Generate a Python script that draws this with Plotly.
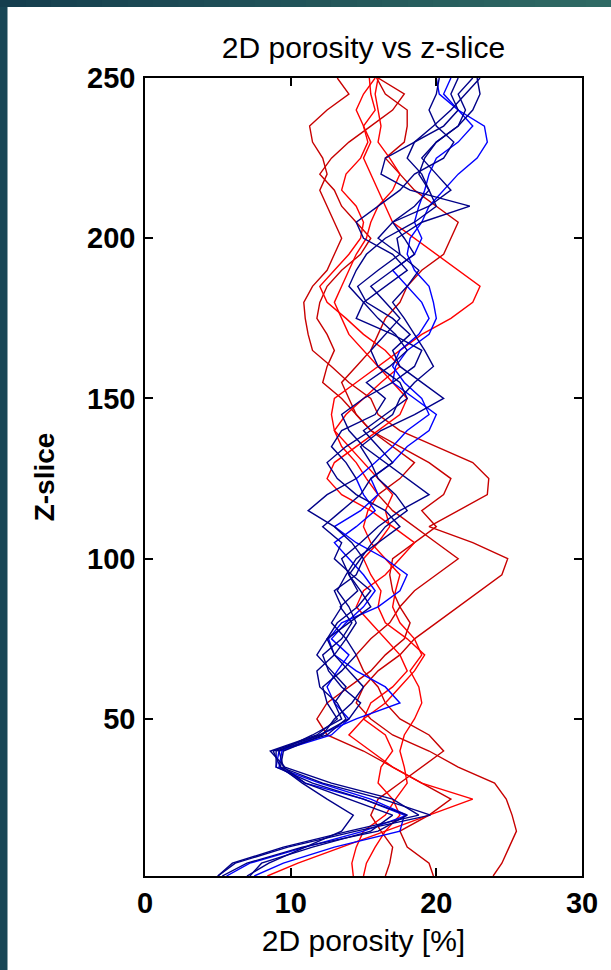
import plotly.graph_objects as go

# z-slice sample positions
z_slice = [1] + list(range(5, 251, 5))

# 2D porosity [%] per z-slice, one list per sample
navy_1 = [5.0, 6.2, 9.8, 14.5, 19.6, 16.3, 12.2, 9.3, 8.8, 12.0, 14.0, 14.8, 13.5, 12.6, 12.2, 13.5, 14.2, 13.4, 14.6, 14.0,
          14.8, 15.6, 16.5, 18.0, 17.2, 16.0, 15.5, 14.8, 16.2, 18.5, 20.5, 19.0, 17.5, 17.0, 18.2, 17.0, 15.2, 14.6, 16.0, 17.5,
          17.3, 19.0, 22.3, 18.2, 16.2, 16.5, 18.5, 19.8, 21.0, 22.0, 23.0]
navy_2 = [5.3, 7.0, 10.8, 16.0, 18.0, 15.0, 11.5, 9.0, 9.0, 12.5, 13.8, 13.2, 12.0, 11.8, 13.0, 13.8, 12.8, 13.5, 13.0, 14.5,
          15.0, 14.2, 13.0, 11.2, 12.5, 14.5, 13.8, 12.8, 13.5, 15.8, 16.5, 15.2, 16.8, 18.0, 17.2, 16.0, 15.0, 14.0, 14.5, 15.2,
          16.5, 18.5, 20.0, 19.5, 18.8, 19.2, 20.0, 21.5, 22.0, 21.5, 22.5]
navy_3 = [7.0, 8.5, 11.0, 13.5, 14.3, 12.5, 10.8, 9.3, 9.5, 12.2, 13.0, 14.2, 15.0, 14.0, 13.0, 12.5, 14.0, 15.5, 14.8, 14.0,
          13.5, 14.8, 16.0, 17.5, 19.5, 18.0, 16.5, 15.0, 14.0, 13.5, 15.0, 17.0, 18.5, 19.0, 17.0, 14.5, 15.0, 16.5, 18.0, 17.0,
          15.0, 14.5, 16.0, 17.5, 18.5, 20.5, 21.2, 20.0, 19.5, 20.0, 20.2]
navy_4 = [7.2, 8.0, 11.5, 15.5, 17.0, 14.0, 11.0, 9.5, 9.2, 11.5, 13.5, 13.0, 13.8, 12.8, 11.8, 12.5, 13.2, 14.6, 15.5, 14.2,
          13.0, 13.5, 12.2, 13.5, 14.8, 15.5, 17.0, 16.0, 15.0, 16.5, 18.0, 17.5, 16.0, 15.5, 16.5, 17.5, 16.5, 15.5, 17.0, 18.5,
          17.8, 17.0, 18.5, 19.5, 19.0, 18.0, 18.5, 20.5, 21.5, 21.0, 21.5]
navy_5 = [5.0, 6.0, 9.5, 14.0, 18.8, 17.0, 12.8, 9.6, 8.6, 11.8, 13.2, 12.5, 12.2, 13.5, 14.5, 13.8, 14.5, 14.0, 13.2, 13.8,
          14.5, 16.0, 17.5, 16.5, 14.5, 13.2, 12.5, 13.8, 15.5, 17.0, 17.5, 18.5, 19.8, 19.2, 18.5, 17.8, 17.0, 18.0, 18.8, 17.5,
          16.0, 17.0, 19.5, 21.0, 20.0, 19.0, 20.0, 21.5, 22.5, 23.0, 22.8]
blue_1 = [7.5, 9.5, 13.0, 17.5, 17.8, 15.0, 11.0, 9.2, 9.4, 12.0, 14.5, 17.5, 16.5, 14.5, 13.0, 12.6, 13.5, 16.0, 17.5, 18.0,
          16.5, 14.5, 13.0, 14.8, 16.0, 15.5, 17.0, 18.0, 19.5, 20.0, 18.5, 17.0, 17.2, 18.0, 19.5, 20.0, 19.8, 19.5, 18.5, 18.0,
          18.2, 19.0, 19.5, 20.5, 21.5, 22.8, 23.5, 23.3, 21.5, 20.5, 21.0]
blue_2 = [5.6, 7.2, 11.0, 15.0, 18.0, 15.5, 12.0, 9.0, 9.2, 12.8, 14.0, 13.0, 12.5, 13.2, 14.0, 12.8, 13.8, 15.0, 15.8, 15.0,
          14.0, 13.0, 14.5, 15.8, 15.0, 14.5, 15.8, 17.0, 18.0, 19.5, 19.0, 17.8, 17.0, 17.5, 18.8, 19.5, 19.0, 18.0, 17.0, 18.5,
          19.0, 18.5, 18.8, 19.2, 19.5, 20.0, 21.5, 22.5, 21.5, 20.2, 20.0]
red_1 = [8.4, 10.5, 13.5, 16.5, 19.5, 22.5, 19.0, 17.0, 15.5, 14.0, 15.0, 16.5, 17.5, 18.5, 19.2, 18.0, 16.5, 16.0, 16.2, 15.5,
         15.0, 16.0, 16.8, 16.5, 17.0, 16.0, 15.0, 14.0, 13.0, 12.8, 13.0, 14.5, 16.0, 17.5, 19.0, 21.0, 22.5, 23.0, 21.5, 20.0,
         18.5, 17.0, 16.5, 16.0, 15.5, 15.0, 15.5, 15.0, 15.8, 15.5, 15.4]
red_2 = [15.0, 15.2, 15.8, 16.5, 17.5, 17.0, 16.0, 16.2, 17.0, 16.5, 15.0, 15.5, 17.0, 18.0, 17.5, 16.5, 15.5, 14.5, 15.0, 16.5,
         17.5, 18.5, 17.0, 15.5, 13.5, 12.5, 13.0, 14.5, 16.0, 17.5, 18.0, 17.0, 16.0, 15.0, 14.0, 13.5, 13.0, 13.5, 14.0, 14.5,
         15.2, 15.5, 16.0, 17.0, 17.5, 16.8, 16.0, 16.2, 16.0, 15.8, 16.0]
red_3 = [14.3, 14.2, 14.5, 15.0, 16.5, 17.2, 18.0, 17.8, 17.5, 17.8, 18.5, 19.0, 18.8, 18.2, 19.0, 18.5, 17.5, 17.0, 17.2, 17.5,
         16.5, 15.5, 15.0, 15.3, 16.0, 15.2, 14.5, 13.5, 13.0, 13.8, 15.0, 16.2, 17.5, 16.5, 15.0, 13.8, 12.5, 12.0, 13.0, 14.0,
         14.8, 15.0, 14.5, 13.5, 13.8, 14.8, 15.3, 15.0, 14.5, 15.0, 15.8]
darkred_1 = [23.9, 24.5, 25.0, 25.5, 25.2, 24.8, 24.0, 21.5, 19.5, 17.0, 15.5, 14.5, 15.0, 16.0, 17.5, 18.5, 20.0, 21.5, 23.0, 24.5,
             24.9, 22.5, 19.5, 21.5, 23.5, 23.6, 22.5, 20.0, 17.5, 16.0, 15.5, 14.0, 12.8, 11.5, 11.2, 11.0, 10.9, 11.5, 12.5, 13.0,
             13.5, 13.0, 12.5, 12.0, 12.5, 12.2, 11.5, 11.3, 12.5, 14.0, 13.2]
darkred_2 = [19.8, 19.5, 18.0, 17.5, 19.5, 21.0, 19.0, 17.0, 15.0, 12.5, 11.8, 12.5, 14.0, 15.5, 16.5, 17.8, 18.2, 17.5, 17.0, 16.8,
             17.0, 18.5, 20.0, 19.0, 20.5, 21.0, 19.5, 17.5, 15.5, 14.5, 13.5, 12.2, 12.5, 13.0, 12.5, 11.8, 12.0, 12.5, 13.5, 14.8,
             15.5, 14.5, 13.5, 13.0, 12.0, 12.8, 14.0, 15.5, 17.0, 17.8, 16.0]
darkred_3 = [16.5, 16.8, 17.0, 16.2, 15.5, 16.0, 17.5, 19.0, 20.5, 19.5, 17.5, 16.5, 16.0, 15.0, 14.5, 15.5, 16.8, 17.5, 18.5, 20.0,
             21.5, 20.0, 18.5, 17.0, 16.0, 17.5, 18.5, 17.0, 15.5, 14.5, 14.0, 13.5, 14.5, 15.5, 16.0, 16.5, 17.5, 18.0, 19.0, 20.5,
             21.0, 21.5, 20.0, 18.5, 17.5, 16.5, 17.8, 18.0, 18.0, 16.5, 15.9]

x_ticks = [0, 10, 20, 30]
y_ticks = [50, 100, 150, 200, 250]

NAVY = "#000088"
BLUE = "#0000ff"
DARKRED = "#c80000"
RED = "#ff0000"

series = [
    (darkred_1, DARKRED), (darkred_2, DARKRED), (darkred_3, DARKRED),
    (red_1, RED), (red_2, RED), (red_3, RED),
    (blue_1, BLUE), (blue_2, BLUE),
    (navy_1, NAVY), (navy_2, NAVY), (navy_3, NAVY), (navy_4, NAVY), (navy_5, NAVY),
]

fig = go.Figure()
for vals, col in series:
    fig.add_trace(go.Scatter(x=vals, y=z_slice, mode="lines",
                             line=dict(color=col, width=1.4), showlegend=False,
                             hoverinfo="skip"))

FONT = "Liberation Sans, Arial, sans-serif"
W, H = 611, 970
L, R, T, B = 145, 29, 78, 94
pw, ph = W - L - R, H - T - B

def px_x(p):
    return (p - L) / pw

def px_y(p):
    return (H - B - p) / ph

shapes = []
# dark teal frame (left and top), top band shaded as a gradient
shapes.append(dict(type="rect", xref="paper", yref="paper", layer="below",
                   x0=px_x(0), x1=px_x(7.5), y0=px_y(H), y1=px_y(0),
                   fillcolor="#184655", line=dict(width=0)))
c0 = (0x15, 0x3e, 0x4e)
c1 = (0x2f, 0x6a, 0x64)
n = 24
for i in range(n):
    t = i / (n - 1)
    c = tuple(int(round(a + (b - a) * t)) for a, b in zip(c0, c1))
    shapes.append(dict(type="rect", xref="paper", yref="paper", layer="below",
                       x0=px_x(i * W / n), x1=px_x((i + 1) * W / n + 1),
                       y0=px_y(7), y1=px_y(0),
                       fillcolor="rgb(%d,%d,%d)" % c, line=dict(width=0)))

fig.update_layout(
    width=W, height=H,
    margin=dict(l=L, r=R, t=T, b=B, pad=0),
    paper_bgcolor="white", plot_bgcolor="white",
    shapes=shapes,
    title=dict(text="2D porosity vs z-slice", x=(L + pw / 2) / W, xanchor="center",
               y=1 - 47 / H, yanchor="middle",
               font=dict(family=FONT, size=30, color="black")),
    xaxis=dict(range=[0, 30], tickvals=x_ticks, ticktext=[str(v) for v in x_ticks],
               ticks="inside", ticklen=8, tickwidth=1.5, tickcolor="black",
               showline=True, linecolor="black", linewidth=1.5, mirror="ticks",
               showgrid=False, zeroline=False,
               tickfont=dict(family=FONT, size=29, color="black", weight="bold"),
               title=dict(text="2D porosity [%]", standoff=12,
                          font=dict(family=FONT, size=30, color="black"))),
    yaxis=dict(range=[1, 250], tickvals=y_ticks, ticktext=[str(v) for v in y_ticks],
               ticks="inside", ticklen=8, tickwidth=1.5, tickcolor="black",
               showline=True, linecolor="black", linewidth=1.5, mirror="ticks",
               showgrid=False, zeroline=False, ticklabelstandoff=2,
               tickfont=dict(family=FONT, size=29, color="black", weight="bold"),
               title=dict(text="Z-slice", standoff=24,
                          font=dict(family=FONT, size=28, color="black", weight="bold"))),
)

fig.write_html("out.html", config={"displayModeBar": False},
               post_script="document.body.style.margin='0px';")
